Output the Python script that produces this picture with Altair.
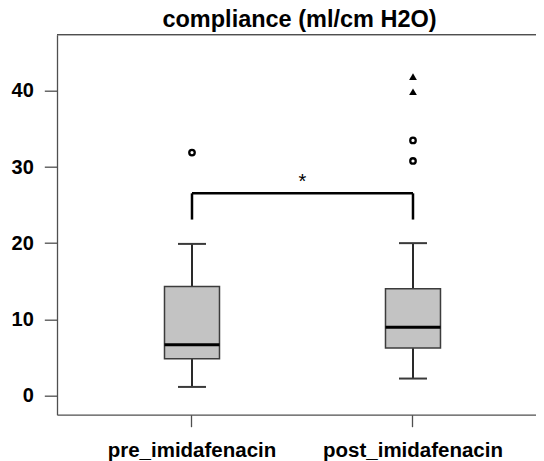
import altair as alt
import pandas as pd

# ---- data ----
groups = ["pre_imidafenacin", "post_imidafenacin"]
whisker_low = [1.1, 2.2]
q1 = [4.8, 6.2]
median = [6.65, 8.95]
q3 = [14.3, 14.0]
whisker_high = [19.9, 20.0]

outlier_groups = ["pre_imidafenacin", "post_imidafenacin", "post_imidafenacin"]
outlier_values = [31.9, 33.5, 30.8]
extreme_groups = ["post_imidafenacin", "post_imidafenacin"]
extreme_values = [41.9, 39.9]

bracket_from = ["pre_imidafenacin"]
bracket_to = ["post_imidafenacin"]
bracket_top = [26.55]
bracket_bottom = [23.1]
bracket_label = ["*"]

y_ticks = [0, 10, 20, 30, 40]
y_domain = [-2.55, 47.4]
title_text = "compliance (ml/cm H2O)"

# ---- layout ----
PLOT_W, PLOT_H = 479, 380
PAD_OUTER, ALIGN = 0.0837, 0.662
STEP = PLOT_W / (len(groups) + 2 * PAD_OUTER)
FONT = "Liberation Sans"
FRAME = "#4f4f4f"

box_df = pd.DataFrame({"group": groups, "low": whisker_low, "q1": q1,
                       "median": median, "q3": q3, "high": whisker_high})
out_df = pd.DataFrame({"group": outlier_groups, "value": outlier_values})
ext_df = pd.DataFrame({"group": extreme_groups, "value": extreme_values})
br_h = pd.DataFrame({"group": bracket_from, "group_end": bracket_to,
                     "top": bracket_top, "label": bracket_label})
br_v = pd.DataFrame({"group": bracket_from + bracket_to,
                     "top": bracket_top * 2, "bottom": bracket_bottom * 2})

x_scale = alt.Scale(domain=groups, paddingInner=0, paddingOuter=PAD_OUTER, align=ALIGN)
x_axis = alt.Axis(title=None, labelAngle=0, labelFont=FONT, labelFontSize=20.5,
                  labelFontWeight="bold", labelColor="black", labelPadding=14,
                  labelLimit=400, tickSize=12, tickColor=FRAME, tickWidth=1.3,
                  domainColor=FRAME, domainWidth=1.3, grid=False)
y_scale = alt.Scale(domain=y_domain, nice=False, zero=False)
y_axis = alt.Axis(title=None, values=y_ticks, labelFont=FONT, labelFontSize=20,
                  labelFontWeight="bold", labelColor="black", labelPadding=11,
                  tickSize=12.7, tickColor=FRAME, tickWidth=1.3,
                  domainColor=FRAME, domainWidth=1.3, grid=False)

X = alt.X("group:N", scale=x_scale, axis=x_axis, sort=groups)


def Y(field):
    return alt.Y(f"{field}:Q", scale=y_scale, axis=y_axis)


top_frame = alt.Chart(box_df).mark_rule(color=FRAME, strokeWidth=1.3).encode(
    x=alt.value(0), x2=alt.value(PLOT_W), y=alt.value(0))

base = alt.Chart(box_df)
whisk_lo = base.mark_rule(color="#2a2a2a", strokeWidth=2).encode(x=X, y=Y("low"), y2="q1")
whisk_hi = base.mark_rule(color="#2a2a2a", strokeWidth=2).encode(x=X, y=Y("q3"), y2="high")
cap_lo = base.mark_tick(color="#3a3a3a", size=28, thickness=2, opacity=1).encode(
    x=X, y=Y("low"))
cap_hi = base.mark_tick(color="#3a3a3a", size=28, thickness=2, opacity=1).encode(
    x=X, y=Y("high"))
box = base.mark_bar(size=55, fill="#c3c3c3", stroke="#3c3c3c", strokeWidth=1.5,
                    opacity=1).encode(x=X, y=Y("q1"), y2="q3")
med = base.mark_tick(color="black", size=55, thickness=3, opacity=1).encode(
    x=X, y=Y("median"))

outs = alt.Chart(out_df).mark_point(shape="circle", filled=False, size=30,
                                    strokeWidth=2.3, color="black", opacity=1).encode(
    x=X, y=Y("value"))
exts = alt.Chart(ext_df).mark_point(shape="triangle-up", filled=True, size=60,
                                    color="black", opacity=1).encode(x=X, y=Y("value"))

br_line = alt.Chart(br_h).mark_rule(color="black", strokeWidth=2.5).encode(
    x=alt.X("group:N", scale=x_scale, axis=x_axis, bandPosition=0.5),
    x2=alt.X2("group_end", bandPosition=0.5), y=Y("top"))
br_legs = alt.Chart(br_v).mark_rule(color="black", strokeWidth=2.5).encode(
    x=X, y=Y("bottom"), y2="top")
star = alt.Chart(br_h).mark_text(font=FONT, fontSize=20, color="black",
                                 baseline="bottom", dx=STEP / 2, dy=-1).encode(
    x=X, y=Y("top"), text="label:N")

chart = alt.layer(top_frame, whisk_lo, whisk_hi, cap_lo, cap_hi, box, med,
                  outs, exts, br_line, br_legs, star).properties(
    width=PLOT_W, height=PLOT_H, autosize="none",
    padding={"left": 49, "top": 26.7, "right": 0, "bottom": 50},
    title=alt.TitleParams(title_text, font=FONT, fontSize=23.5, fontWeight="bold",
                          color="black", anchor="middle", frame="group",
                          offset=2.8, baseline="top", dx=3),
).configure_view(stroke=None)

chart.save("out.html", embed_options={"renderer": "svg", "actions": False})
